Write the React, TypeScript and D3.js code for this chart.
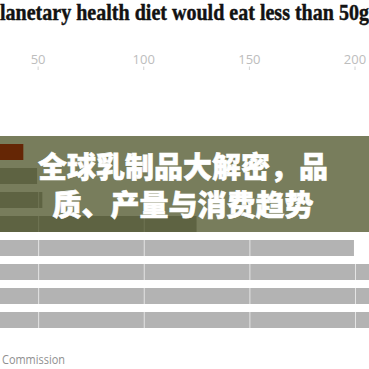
import React from 'react';
import * as d3 from 'd3';

const categories = ['Planetary health diet', 'Row 2', 'Row 3', 'Row 4', 'Row 5', 'Row 6', 'Row 7', 'Row 8'];
const values = [43, 49.5, 52, 125, 199.5, 230, 260, 290];
const highlight = [true, false, false, false, false, false, false, false];
const tickValues = [0, 50, 100, 150, 200];
const titleText = 'lanetary health diet would eat less than 50g';
const bannerLines = ['全球乳制品大解密，品', '质、产量与消费趋势'];
const footerText = 'Commission';

const W = 369;
const H = 369;

export default function App() {
  const x = d3.scaleLinear().domain([0, 200]).range([-67.5, 355]);
  const y = d3.scaleBand<string>().domain(categories).range([144, 328]).paddingInner(1 / 3).paddingOuter(0);
  const gridTicks = tickValues.filter((t) => t > 0);

  return (
    <svg
      width={W}
      height={H}
      style={{ position: 'absolute', left: 0, top: 0, background: '#fff' }}
    >
      <rect x={0} y={0} width={W} height={H} fill="#fff" />
      <text
        x={0}
        y={19.5}
        fontFamily="'Liberation Serif', serif"
        fontWeight="bold"
        fontSize={23.5}
        fill="#121212"
        stroke="#121212"
        strokeWidth={0.45}
        textLength={369}
        lengthAdjust="spacingAndGlyphs"
      >
        {titleText}
      </text>
      {gridTicks.map((t) => (
        <g key={t}>
          <text
            x={x(t)}
            y={63.5}
            textAnchor="middle"
            fontFamily="'Open Sans', sans-serif"
            fontSize={13}
            fill="#bdbdbd"
          >
            {t}
          </text>
          <line x1={x(t)} x2={x(t)} y1={66.5} y2={70} stroke="#d2d2d2" strokeWidth={1} />
        </g>
      ))}
      {categories.map((c, i) => (
        <rect
          key={c}
          x={x(0)}
          y={y(c)}
          width={x(values[i]) - x(0)}
          height={y.bandwidth()}
          fill={highlight[i] ? '#c70000' : '#b3b3b3'}
        />
      ))}
      {categories.map((c, i) =>
        gridTicks
          .filter((t) => t <= values[i] && !highlight[i])
          .map((t) => (
            <line
              key={c + t}
              x1={x(t) + 0.5}
              x2={x(t) + 0.5}
              y1={y(c)}
              y2={(y(c) || 0) + y.bandwidth()}
              stroke="#e4e4e4"
              strokeWidth={1}
            />
          ))
      )}
      <rect x={0} y={136} width={W} height={96} fill="rgb(50,57,8)" opacity={0.66} />
      {bannerLines.map((line, i) => (
        <text
          key={i}
          x={183}
          y={165 + i * 37.5}
          textAnchor="middle"
          dominantBaseline="central"
          fontFamily="'Noto Sans CJK SC', sans-serif"
          fontWeight={900}
          fontSize={29}
          fill="#ffffff"
          stroke="#ffffff"
          strokeWidth={0.6}
        >
          {line}
        </text>
      ))}
      <text
        x={2}
        y={364}
        fontFamily="'Open Sans', sans-serif"
        fontSize={12.5}
        fill="#8f8f8f"
        textLength={63}
        lengthAdjust="spacingAndGlyphs"
      >
        {footerText}
      </text>
    </svg>
  );
}
